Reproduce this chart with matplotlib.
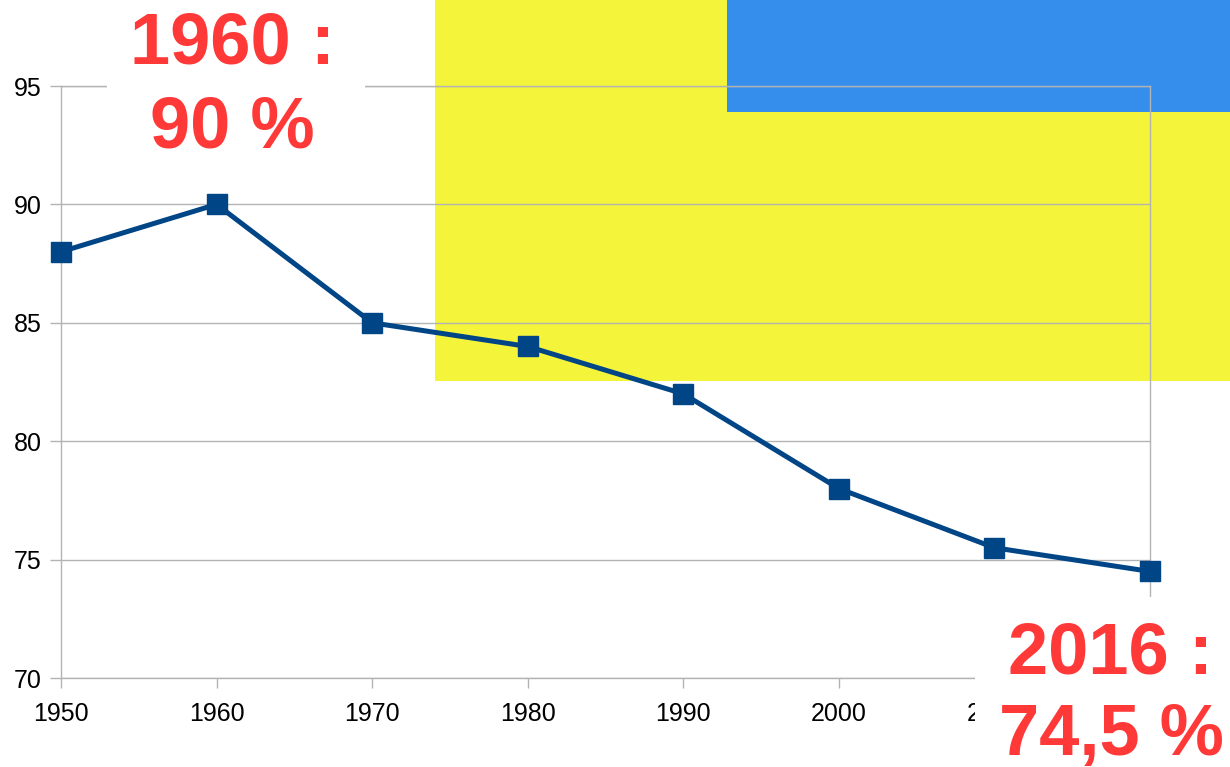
import matplotlib.pyplot as plt
from matplotlib.patches import Rectangle

# data
years = ["1950", "1960", "1970", "1980", "1990", "2000", "2010", "2016"]
share = [88, 90, 85, 84, 82, 78, 75.5, 74.5]
y_ticks = [70, 75, 80, 85, 90, 95]

W, H = 1230, 767
plt.rcParams['font.family'] = ['Liberation Sans', 'DejaVu Sans']

fig = plt.figure(figsize=(W / 100, H / 100), dpi=100)


def px_rect(x0, y0, x1, y1, color, z):
    # pixel box (top-left origin) -> rectangle in figure coords
    r = Rectangle((x0 / W, 1 - y1 / H), (x1 - x0) / W, (y1 - y0) / H,
                  transform=fig.transFigure, facecolor=color,
                  edgecolor='none', zorder=z)
    fig.add_artist(r)


# coloured blocks behind the chart
px_rect(435, 0, 1230, 381, '#f4f43a', -5)
px_rect(727, 0, 1230, 112, '#358eec', -4)

ax = fig.add_axes([61 / W, 1 - 678 / H, (1150 - 61) / W, (678 - 86) / H])
ax.set_facecolor('none')

x = list(range(len(years)))
ax.plot(x, share, color='#004586', lw=3.6, marker='s', ms=14.5,
        clip_on=False, zorder=3)

ax.set_xlim(0, len(years) - 1)
ax.set_ylim(70, 95)
ax.set_xticks(x)
ax.set_xticklabels(years)
ax.set_yticks(y_ticks)

grey = '#b3b3b3'
ax.yaxis.grid(True, color=grey, lw=1)
ax.set_axisbelow(True)
for s in ax.spines.values():
    s.set_color(grey)
    s.set_linewidth(1)
ax.tick_params(axis='x', direction='out', length=7.2, width=1, color=grey,
               labelsize=18, pad=10)
ax.tick_params(axis='y', direction='out', length=8, width=1, color=grey,
               labelsize=18, pad=6)

# white boxes behind the big labels
px_rect(107, 0, 365, 165, 'white', 5)
px_rect(975, 597, 1230, 767, 'white', 5)

red = '#ff3838'
lbl = dict(ha='center', va='baseline', fontsize=52, fontweight='bold',
           color=red, zorder=6)
fig.text(232 / W, 1 - 64 / H, "1960 :", **lbl)
fig.text(232 / W, 1 - 148 / H, "90 %", **lbl)
fig.text(1111 / W, 1 - 673 / H, "2016 :", **lbl)
fig.text(1111 / W, 1 - 755 / H, "74,5 %", **lbl)

fig.savefig('out.png', dpi=100)
